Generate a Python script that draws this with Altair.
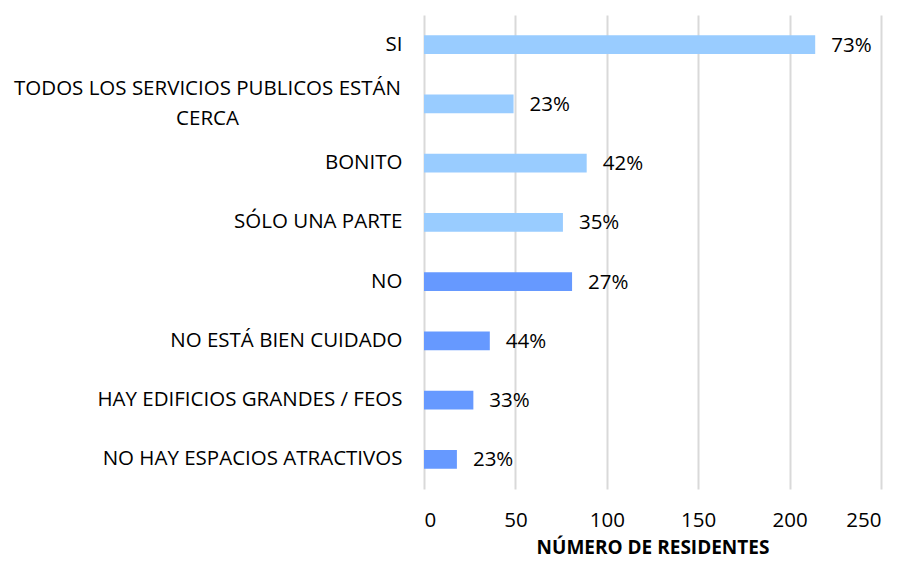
import altair as alt
import pandas as pd

categories = ["SI", "TODOS LOS SERVICIOS PUBLICOS ESTÁN CERCA", "BONITO", "SÓLO UNA PARTE",
              "NO", "NO ESTÁ BIEN CUIDADO", "HAY EDIFICIOS GRANDES / FEOS", "NO HAY ESPACIOS ATRACTIVOS"]
values = [214, 49, 89, 76, 81, 36, 27, 18]
pct_labels = ["73%", "23%", "42%", "35%", "27%", "44%", "33%", "23%"]
groups = ["SI", "SI", "SI", "SI", "NO", "NO", "NO", "NO"]
colors = {"SI": "#99CCFF", "NO": "#6699FF"}

df = pd.DataFrame({"cat": categories, "val": values, "pct": pct_labels, "grp": groups})

FONT = "Open Sans"
FS = 20.5
LONG = "TODOS LOS SERVICIOS PUBLICOS ESTÁN CERCA"
TEST = f"datum.label == '{LONG}'"

y = alt.Y("cat:N", sort=categories, title=None,
          scale=alt.Scale(paddingInner=0.68, paddingOuter=0.34),
          axis=alt.Axis(ticks=False, domain=False, labelFontSize=FS,
                        labelFont=FONT, labelColor="#000000", labelLimit=500,
                        labelLineHeight=30,
                        labelPadding={"condition": {"test": TEST, "value": 217}, "value": 22},
                        labelAlign={"condition": {"test": TEST, "value": "center"}, "value": "right"},
                        labelOffset={"condition": {"test": TEST, "value": -15}, "value": 0},
                        labelExpr=f"{TEST} ? ['TODOS LOS SERVICIOS PUBLICOS ESTÁN', 'CERCA'] : datum.label"))

x = alt.X("val:Q", title="NÚMERO DE RESIDENTES",
          scale=alt.Scale(domain=[0, 250], nice=False),
          axis=alt.Axis(values=[0, 50, 100, 150, 200, 250], ticks=False, domain=False,
                        grid=True, gridColor="#D9D9D9", gridWidth=2,
                        labelFontSize=FS, labelFont=FONT, labelColor="#000000", labelPadding=21,
                        titleFontSize=FS - 1.5, titleFont=FONT, titleFontWeight="bold",
                        titleColor="#000000", titlePadding=8))

bars = alt.Chart(df).mark_bar().encode(
    x=x, y=y,
    color=alt.Color("grp:N", scale=alt.Scale(domain=list(colors.keys()), range=list(colors.values())), legend=None),
)

text = alt.Chart(df).mark_text(align="left", dx=16, fontSize=FS, font=FONT, color="#000000", dy=1).encode(
    x="val:Q", y=alt.Y("cat:N", sort=categories), text="pct:N"
)

chart = (bars + text).properties(
    width=457, height=474,
    autosize=alt.AutoSizeParams(type="none"),
    padding={"left": 416, "top": 7, "right": 13, "bottom": 70},
    background="#FFFFFF",
).configure_view(stroke=None)

chart.save("out.html", embed_options={"renderer": "svg", "actions": False})
